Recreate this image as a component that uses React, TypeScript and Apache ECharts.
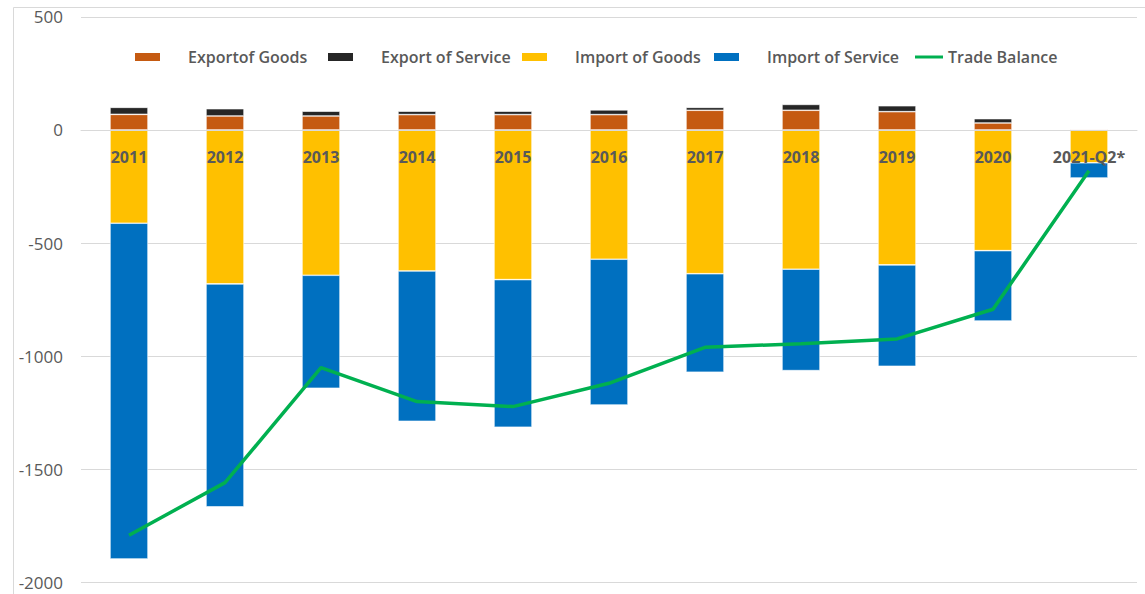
import React, { useEffect, useRef } from "react";
import * as echarts from "echarts";

const categories = ["2011", "2012", "2013", "2014", "2015", "2016", "2017", "2018", "2019", "2020", "2021-Q2*"];
const exportGoods = [69, 62, 62, 68, 68, 68, 87, 87, 81, 31, 3];
const exportService = [31, 32, 21, 15, 15, 21, 13, 26, 26, 19, 3];
const importGoods = [-412, -680, -642, -623, -661, -571, -635, -615, -596, -533, -145];
const importService = [-1483, -985, -499, -664, -652, -644, -435, -448, -448, -311, -67];
const tradeBalance = [-1790, -1558, -1050, -1200, -1222, -1119, -960, -944, -923, -792, -180];
const yTicks = { min: -2000, max: 500, interval: 500 };

const seriesNames = ["Exportof Goods", "Export of Service", "Import of Goods", "Import of Service", "Trade Balance"];
const seriesColors = ["#C55A11", "#262626", "#FFC000", "#0070C0", "#00B050"];

const FONT = "'Open Sans', sans-serif";
const GRAY = "#595959";

const GRID_TOP = 16.8;
const GRID_BOTTOM = 11.3;
const HEIGHT = 594;

export default function App() {
  const ref = useRef<HTMLDivElement>(null);
  useEffect(() => {
    if (!ref.current) return;
    const chart = echarts.init(ref.current, null, { renderer: "svg" });
    const legendLefts = [133, 326, 520, 712, 915];
    const legends = seriesNames.map((name, i) => {
      const isLine = i === 4;
      return {
        data: [name],
        left: legendLefts[i],
        top: 49,
        padding: 0,
        itemWidth: isLine ? 28 : 27,
        itemHeight: isLine ? 3 : 10,
        icon: "rect",
        selectedMode: false,
        textStyle: {
          fontFamily: FONT,
          fontSize: 16,
          fontWeight: 600,
          color: GRAY,
          padding: isLine ? [0, 0, 0, 0] : [0, 0, 0, 22],
        },
      };
    });
    // place the category axis on the value 0 of the y scale
    const plotH = HEIGHT - GRID_TOP - GRID_BOTTOM;
    const zeroFromBottom = ((0 - yTicks.min) / (yTicks.max - yTicks.min)) * plotH;
    const barCommon = {
      type: "bar",
      stack: "total",
      barWidth: 38,
      itemStyle: { borderColor: "#ffffff", borderWidth: 0.6 },
    };
    chart.setOption({
      animation: false,
      backgroundColor: "#ffffff",
      color: seriesColors,
      graphic: [
        {
          type: "rect",
          shape: { x: 13.5, y: 7.5, width: 1300, height: 700 },
          style: { fill: "none", stroke: "#d9d9d9", lineWidth: 1 },
          silent: true,
          z: -10,
        },
      ],
      legend: legends,
      grid: {
        left: 81,
        right: 8,
        top: GRID_TOP,
        bottom: GRID_BOTTOM,
        containLabel: false,
        outerBoundsMode: "none",
      },
      xAxis: {
        type: "category",
        data: categories,
        position: "bottom",
        offset: -zeroFromBottom,
        z: 5,
        axisLine: { show: true, onZero: false, lineStyle: { color: "#d9d9d9", width: 1 } },
        axisTick: { show: false },
        axisLabel: {
          margin: 19,
          fontFamily: FONT,
          fontSize: 16,
          fontWeight: "bold",
          color: GRAY,
        },
      },
      yAxis: {
        type: "value",
        min: yTicks.min,
        max: yTicks.max,
        interval: yTicks.interval,
        axisLine: { show: false },
        axisTick: { show: false },
        splitLine: { lineStyle: { color: "#d9d9d9", width: 1 } },
        axisLabel: {
          margin: 18,
          fontFamily: FONT,
          fontSize: 17,
          color: GRAY,
          formatter: (v: number) => String(v),
        },
      },
      series: [
        { ...barCommon, name: seriesNames[0], data: exportGoods, itemStyle: { ...barCommon.itemStyle, color: seriesColors[0] } },
        { ...barCommon, name: seriesNames[1], data: exportService, itemStyle: { ...barCommon.itemStyle, color: seriesColors[1] } },
        { ...barCommon, name: seriesNames[2], data: importGoods, itemStyle: { ...barCommon.itemStyle, color: seriesColors[2] } },
        { ...barCommon, name: seriesNames[3], data: importService, itemStyle: { ...barCommon.itemStyle, color: seriesColors[3] } },
        {
          type: "line",
          name: seriesNames[4],
          data: tradeBalance,
          showSymbol: false,
          symbol: "none",
          z: 4,
          lineStyle: { color: seriesColors[4], width: 3.5 },
          itemStyle: { color: seriesColors[4] },
        },
      ],
    });
    return () => chart.dispose();
  }, []);
  return (
    <div
      ref={ref}
      style={{ position: "absolute", left: 0, top: 0, width: 1145, height: 594, background: "#fff" }}
    />
  );
}
